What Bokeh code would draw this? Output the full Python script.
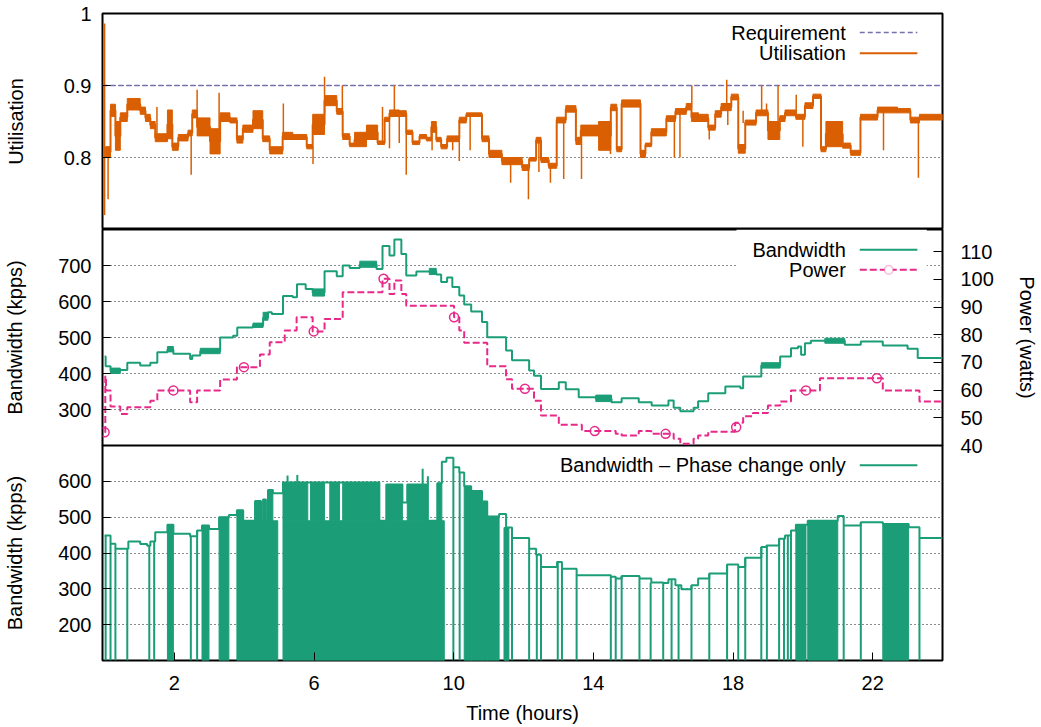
from bokeh.plotting import figure
from bokeh.models import (Range1d, LinearAxis, FixedTicker, Span, Label, Arrow,
                          BoxAnnotation)
from bokeh.layouts import column
from bokeh.embed import file_html
from bokeh.resources import INLINE

# ---------------------------------------------------------------- DATA
t_end = 24.0

# Utilisation: blocks of rapid oscillation (start time, low, high)
util_start = [0.03, 0.17, 0.31, 0.45, 0.65, 1.02, 1.17, 1.31, 1.45, 1.80,
              1.94, 2.11, 2.39, 2.51, 2.65, 3.02, 3.31, 3.59, 3.79, 3.96,
              4.25, 4.53, 4.73, 5.10, 5.39, 5.79, 5.96, 6.30, 6.65, 6.82,
              7.02, 7.16, 7.50, 7.82, 8.02, 8.16, 8.44, 8.64, 8.82, 9.02,
              9.22, 9.36, 9.50, 9.64, 9.81, 10.16, 10.36, 10.81, 11.01, 11.38,
              11.67, 11.96, 12.16, 12.36, 12.50, 12.72, 12.95, 13.21, 13.50, 13.64,
              14.15, 14.50, 14.67, 14.81, 15.35, 15.49, 15.66, 16.09, 16.35, 16.66,
              16.81, 17.01, 17.29, 17.49, 17.66, 17.95, 18.15, 18.35, 18.66, 19.00,
              19.34, 19.49, 19.80, 20.06, 20.29, 20.52, 20.66, 21.14, 21.37, 21.65,
              22.14, 22.71, 23.08, 23.34]
util_lo = [0.800, 0.857, 0.810, 0.850, 0.866, 0.860, 0.850, 0.840, 0.822, 0.826,
           0.810, 0.823, 0.830, 0.855, 0.830, 0.805, 0.850, 0.848, 0.820, 0.835,
           0.840, 0.822, 0.805, 0.825, 0.825, 0.812, 0.832, 0.872, 0.860, 0.825,
           0.815, 0.815, 0.825, 0.818, 0.850, 0.857, 0.857, 0.832, 0.818, 0.826,
           0.823, 0.835, 0.822, 0.812, 0.822, 0.848, 0.857, 0.822, 0.800, 0.790,
           0.790, 0.782, 0.795, 0.820, 0.793, 0.785, 0.848, 0.863, 0.818, 0.830,
           0.810, 0.865, 0.808, 0.870, 0.800, 0.815, 0.830, 0.850, 0.860, 0.866,
           0.850, 0.850, 0.838, 0.856, 0.865, 0.880, 0.806, 0.845, 0.858, 0.825,
           0.850, 0.858, 0.853, 0.868, 0.882, 0.808, 0.815, 0.813, 0.803, 0.852,
           0.862, 0.862, 0.848, 0.852]
util_hi = [0.815, 0.874, 0.850, 0.862, 0.882, 0.870, 0.860, 0.850, 0.833, 0.866,
           0.820, 0.832, 0.838, 0.866, 0.855, 0.840, 0.862, 0.855, 0.830, 0.845,
           0.865, 0.830, 0.815, 0.835, 0.832, 0.818, 0.860, 0.886, 0.868, 0.833,
           0.820, 0.835, 0.845, 0.823, 0.856, 0.866, 0.865, 0.838, 0.823, 0.832,
           0.828, 0.850, 0.828, 0.818, 0.830, 0.856, 0.862, 0.830, 0.810, 0.800,
           0.800, 0.790, 0.800, 0.828, 0.800, 0.792, 0.856, 0.872, 0.828, 0.845,
           0.850, 0.874, 0.815, 0.880, 0.810, 0.820, 0.840, 0.858, 0.868, 0.875,
           0.862, 0.860, 0.845, 0.865, 0.875, 0.888, 0.818, 0.852, 0.866, 0.850,
           0.858, 0.866, 0.860, 0.876, 0.888, 0.815, 0.850, 0.820, 0.810, 0.860,
           0.870, 0.868, 0.856, 0.860]
# Utilisation spikes (time, from, to)
util_spike_t = [0.00, 0.10, 1.50, 2.48, 2.65, 3.28, 5.12, 5.97, 6.30, 6.81,
                7.96, 8.16, 8.30, 8.44, 8.64, 9.38, 9.97, 10.16, 10.47, 11.63,
                12.14, 12.44, 12.77, 13.15, 13.66, 14.49, 16.32, 16.48, 16.82, 17.32,
                17.82, 17.85, 18.29, 18.82, 18.96, 19.29, 19.81, 20.00, 22.31, 23.31]
util_spike_from = [0.720, 0.805, 0.830, 0.834, 0.860, 0.840, 0.830, 0.815, 0.860, 0.865,
                   0.820, 0.853, 0.862, 0.860, 0.835, 0.840, 0.826, 0.826, 0.860, 0.795,
                   0.786, 0.824, 0.790, 0.852, 0.835, 0.830, 0.854, 0.864, 0.870, 0.842,
                   0.870, 0.870, 0.848, 0.862, 0.862, 0.840, 0.856, 0.856, 0.866, 0.852]
util_spike_to = [0.986, 0.742, 0.870, 0.776, 0.894, 0.890, 0.875, 0.791, 0.912, 0.900,
                 0.870, 0.813, 0.900, 0.820, 0.776, 0.810, 0.810, 0.795, 0.810, 0.765,
                 0.742, 0.780, 0.765, 0.770, 0.770, 0.805, 0.800, 0.800, 0.900, 0.825,
                 0.908, 0.845, 0.865, 0.900, 0.875, 0.900, 0.887, 0.815, 0.810, 0.772]
requirement = 0.9

# Bandwidth (kpps), step series
bw_t = [0.00, 0.03, 0.17, 0.45, 0.65, 1.02, 1.31, 1.51, 1.80, 1.97,
        2.45, 2.51, 2.74, 3.31, 3.68, 3.80, 4.25, 4.54, 4.68, 4.79,
        5.11, 5.39, 5.51, 5.76, 5.96, 6.30, 6.65, 6.82, 7.02, 7.31,
        7.79, 7.96, 8.16, 8.30, 8.50, 8.64, 8.93, 9.30, 9.50, 9.64,
        9.81, 9.96, 10.16, 10.30, 10.50, 10.81, 10.96, 11.50, 11.67, 12.16,
        12.30, 12.50, 13.01, 13.21, 13.58, 14.07, 14.52, 14.81, 15.30, 15.67,
        16.15, 16.30, 16.49, 16.87, 17.00, 17.29, 17.78, 18.21, 18.29, 18.81,
        19.35, 19.66, 19.86, 19.95, 20.06, 20.23, 20.63, 21.20, 21.66, 22.29,
        23.00, 23.29]
bw_v = [447, 420, 407, 410, 430, 422, 430, 459, 467, 455,
        440, 450, 462, 500, 505, 528, 534, 555, 570, 565,
        615, 612, 648, 635, 625, 684, 670, 700, 693, 703,
        690, 754, 728, 772, 732, 672, 683, 683, 675, 654,
        667, 640, 617, 592, 572, 543, 501, 464, 437, 408,
        394, 357, 376, 356, 334, 330, 320, 331, 320, 311,
        325, 305, 295, 305, 323, 345, 364, 359, 392, 422,
        447, 470, 475, 452, 484, 491, 491, 480, 489, 478,
        469, 443]
# Bandwidth oscillation blocks (start, end, low, high)
bw_blk_t0 = [0.17, 1.80, 2.74, 4.25, 4.54, 5.96, 7.31, 9.30, 14.07, 18.81, 20.63]
bw_blk_t1 = [0.45, 1.97, 3.31, 4.54, 4.68, 6.30, 7.79, 9.50, 14.52, 19.35, 21.20]
bw_blk_lo = [400, 460, 455, 528, 548, 615, 695, 675, 322, 415, 484]
bw_blk_hi = [415, 475, 470, 540, 570, 635, 712, 692, 340, 430, 498]

# Power (watts), step series
pw_t = [0.00, 0.02, 0.04, 0.17, 0.45, 0.65, 1.31, 1.51, 2.45, 2.65,
        3.31, 3.79, 4.45, 4.73, 5.16, 5.50, 5.96, 6.30, 6.82, 7.96,
        8.16, 8.30, 8.50, 8.64, 10.01, 10.16, 10.30, 10.96, 11.50, 11.67,
        12.30, 12.50, 13.01, 13.67, 14.64, 14.81, 15.30, 15.66, 16.30, 16.49,
        16.87, 17.00, 17.29, 18.06, 18.29, 18.57, 19.00, 19.35, 19.66, 20.49,
        22.29, 23.34]
pw_v = [44.8, 65.0, 59.9, 54.1, 51.4, 53.8, 56.2, 59.9, 55.6, 59.9,
        63.8, 68.3, 72.9, 77.3, 81.5, 86.3, 81.2, 85.7, 95.3, 100.2,
        94.7, 99.6, 94.7, 90.5, 86.3, 81.5, 77.1, 68.6, 63.9, 60.5,
        56.2, 50.8, 47.5, 45.2, 44.2, 43.6, 45.2, 44.2, 42.4, 40.6,
        42.4, 43.6, 45.0, 48.2, 50.6, 51.7, 54.4, 55.9, 59.9, 64.3,
        59.9, 55.9]
pw_mark_t = [0.00, 1.97, 3.99, 5.99, 7.99, 10.01, 12.04, 14.04, 16.07, 18.09, 20.09, 22.12]
pw_mark_v = [44.8, 59.9, 68.3, 81.2, 100.2, 86.3, 60.5, 45.2, 44.2, 46.6, 59.9, 64.3]

# Bandwidth - phase change only: upper envelope (step series)
ph_t = [0.00, 0.17, 0.31, 0.68, 1.02, 1.22, 1.31, 1.45, 1.80, 1.97,
        2.45, 2.65, 2.79, 2.99, 3.28, 3.56, 3.79, 3.97, 4.31, 4.48,
        4.54, 4.62, 4.68, 4.82, 5.11, 7.87, 8.07, 8.53, 8.67, 9.22,
        9.53, 9.66, 9.79, 9.99, 10.16, 10.30, 10.50, 10.81, 10.96, 11.30,
        11.50, 11.67, 12.16, 12.36, 12.50, 12.96, 13.10, 13.52, 14.50, 14.64,
        14.81, 15.32, 15.66, 16.00, 16.15, 16.35, 16.52, 16.81, 17.00, 17.32,
        17.83, 18.15, 18.35, 18.81, 18.96, 19.32, 19.49, 19.66, 19.80, 20.14,
        21.00, 21.17, 21.66, 22.29, 23.03, 23.34]
ph_v = [449, 426, 412, 432, 425, 420, 432, 458, 479, 454,
        447, 463, 477, 467, 500, 506, 519, 490, 545, 490,
        549, 490, 576, 567, 597, 490, 591, 541, 591, 490,
        595, 655, 666, 639, 625, 586, 573, 544, 502, 509,
        471, 442, 412, 395, 361, 375, 356, 338, 334, 329,
        336, 329, 318, 316, 327, 310, 299, 310, 329, 343,
        368, 361, 387, 417, 421, 440, 449, 463, 479, 490,
        503, 477, 486, 481, 472, 442]
ph_low = 100
# dense switching regions (start, end, top) filled down to ph_low
ph_fill_t0 = [1.80, 2.79, 3.28, 3.79, 5.11, 10.30, 10.50, 10.81, 10.96, 11.44, 19.80, 20.14, 22.29]
ph_fill_t1 = [1.97, 2.99, 3.56, 4.96, 9.73, 10.50, 10.81, 10.96, 11.30, 11.58, 20.09, 21.00, 23.03]
ph_fill_top = [479, 477, 500, 490, 490, 586, 573, 544, 502, 471, 479, 490, 481]
# dense switching between upper levels (start, end, low, high)
ph_up_t0 = [3.79, 4.31, 4.54, 4.68, 5.11, 5.90, 6.45, 6.82, 8.07, 8.67, 9.53]
ph_up_t1 = [3.97, 4.48, 4.62, 4.82, 5.82, 6.30, 6.73, 7.87, 8.53, 9.22, 9.66]
ph_up_lo = [490, 490, 490, 490, 490, 490, 490, 490, 490, 490, 490]
ph_up_hi = [519, 545, 549, 576, 597, 597, 597, 597, 591, 591, 595]
# isolated drops (time, level before drop)
ph_drop_t = [0.03, 0.17, 0.31, 0.65, 1.28, 1.42, 2.47, 2.65, 9.99, 10.17,
             11.50, 11.54, 11.67, 12.16, 12.38, 12.50, 12.98, 13.10, 13.52, 14.50,
             14.64, 14.81, 15.32, 15.64, 16.00, 16.24, 16.44, 16.81, 17.32, 17.83,
             18.15, 18.35, 18.81, 18.97, 19.32, 19.46, 19.57, 19.66, 21.17, 21.66,
             23.34]
ph_drop_v = [449, 426, 412, 412, 420, 432, 447, 463, 639, 625,
             471, 471, 442, 412, 395, 361, 375, 356, 338, 334,
             329, 336, 329, 318, 316, 327, 310, 310, 343, 368,
             361, 387, 417, 421, 440, 440, 449, 463, 477, 486,
             442]
# isolated upward spikes (time, from, to)
ph_spike_t = [5.24, 5.52, 9.11, 9.26]
ph_spike_from = [597, 597, 591, 490]
ph_spike_to = [616, 618, 635, 614]

x_ticks = [2, 6, 10, 14, 18, 22]
util_ticks = [0.8, 0.9, 1.0]
bw_ticks = [300, 400, 500, 600, 700]
pw_ticks = [40, 50, 60, 70, 80, 90, 100, 110]
ph_ticks = [200, 300, 400, 500, 600]

# ---------------------------------------------------------------- STYLE
FONT = "Liberation Sans"
FS = "20px"
C_UTIL = "#d95f02"
C_REQ = "#7570b3"
C_BW = "#1b9e77"
C_PW = "#e7298a"

BORDER_L, BORDER_R = 102, 95
FRAME_W = 843
TOP_B, BOT_B = 13, 64
OVERLAP = 14   # room below the middle panel for its lowest right-axis label

x_range = Range1d(-0.06, t_end)


def make_fig(y_range, frame_h, top_border, bottom_border, yticks, ylabel, label_standoff):
    p = figure(x_range=x_range, y_range=y_range,
               width=BORDER_L + FRAME_W + BORDER_R,
               height=top_border + frame_h + bottom_border,
               min_border_left=BORDER_L, min_border_right=BORDER_R,
               min_border_top=top_border, min_border_bottom=bottom_border,
               output_backend="svg", toolbar_location=None)
    p.outline_line_color = "black"
    p.outline_line_width = 2
    p.background_fill_color = "white"
    p.border_fill_color = "white"
    p.xgrid.visible = False
    tk = FixedTicker(ticks=yticks)
    ax = p.yaxis[0]
    ax.ticker = tk
    ax.axis_label = ylabel
    ax.axis_label_text_font = FONT
    ax.axis_label_text_font_size = FS
    ax.axis_label_text_font_style = "normal"
    ax.axis_label_text_color = "black"
    ax.axis_label_standoff = label_standoff
    ax.major_label_text_font = FONT
    ax.major_label_text_font_size = FS
    ax.major_label_text_color = "black"
    ax.major_label_standoff = 11
    ax.major_tick_in = 8
    ax.major_tick_out = 0
    ax.minor_tick_in = 0
    ax.minor_tick_out = 0
    ax.major_tick_line_color = "black"
    ax.major_tick_line_width = 1
    ax.axis_line_color = None
    g = p.ygrid[0]
    g.ticker = tk
    g.grid_line_color = "black"
    g.grid_line_dash = "1 3"
    g.grid_line_width = 1
    g.grid_line_alpha = 0.9
    return p


def legend_entry(p, x_text, x0, x1, y, text, color, dash, width):
    p.add_layout(Label(x=x_text, y=y, text=text, text_align="right", text_baseline="middle",
                       text_font=FONT, text_font_size=FS, text_color="black"))
    p.add_layout(Arrow(x_start=x0, y_start=y, x_end=x1, y_end=y, start=None, end=None,
                       line_color=color, line_width=width, line_dash=dash))


LEG_XT, LEG_X0, LEG_X1 = 21.23, 21.63, 23.28

# ---------------- top: utilisation
p1 = make_fig(Range1d(0.7, 1.0), 216, TOP_B, 0, util_ticks, "Utilisation", 34)
p1.yaxis[0].major_label_overrides = {0.8: "0.8", 0.9: "0.9", 1.0: "1"}
p1.xaxis.visible = False
p1.add_layout(Span(location=requirement, dimension="width", line_color=C_REQ,
                   line_width=1.5, line_dash="5 3", level="underlay"))
u_edges = util_start + [t_end]
p1.quad(left=u_edges[:-1], right=u_edges[1:], bottom=util_lo, top=util_hi,
        fill_color=C_UTIL, line_color=C_UTIL, line_width=1)
u_mid = [(a + b) / 2 for a, b in zip(util_lo, util_hi)]
p1.step(x=u_edges, y=u_mid + [u_mid[-1]], mode="after", line_color=C_UTIL, line_width=2)
p1.segment(x0=util_spike_t, y0=util_spike_from, x1=util_spike_t, y1=util_spike_to,
           line_color=C_UTIL, line_width=1.5)
legend_entry(p1, LEG_XT, LEG_X0, LEG_X1, 0.9736, "Requirement", C_REQ, "5 3", 1.5)
legend_entry(p1, LEG_XT, LEG_X0, LEG_X1, 0.9449, "Utilisation", C_UTIL, "solid", 2)

# ---------------- middle: bandwidth and power
p2 = make_fig(Range1d(200, 800), 216, 0, OVERLAP, bw_ticks, "Bandwidth (kpps)", 29)
p2.xaxis.visible = False
p2.extra_y_ranges = {"power": Range1d(40, 118)}
rax = LinearAxis(y_range_name="power", ticker=FixedTicker(ticks=pw_ticks),
                 axis_label="Power (watts)")
rax.axis_label_text_font = FONT
rax.axis_label_text_font_size = FS
rax.axis_label_text_font_style = "normal"
rax.axis_label_text_color = "black"
rax.axis_label_standoff = 19
rax.major_label_text_font = FONT
rax.major_label_text_font_size = FS
rax.major_label_text_color = "black"
rax.major_label_standoff = 18
rax.major_tick_in = 9
rax.major_tick_out = 0
rax.minor_tick_in = 0
rax.minor_tick_out = 0
rax.major_tick_line_color = "black"
rax.axis_line_color = None
p2.add_layout(rax, "right")

p2.quad(left=bw_blk_t0, right=bw_blk_t1, bottom=bw_blk_lo, top=bw_blk_hi,
        fill_color=C_BW, line_color=C_BW, line_width=1)
p2.step(x=bw_t + [t_end], y=bw_v + [bw_v[-1]], mode="after", line_color=C_BW, line_width=2)
p2.step(x=pw_t + [t_end], y=pw_v + [pw_v[-1]], mode="after", line_color=C_PW, line_width=2,
        line_dash="7 3", y_range_name="power")
p2.scatter(x=pw_mark_t, y=pw_mark_v, marker="circle", size=9, fill_color=None,
           line_color=C_PW, line_width=1.5, y_range_name="power")
p2.add_layout(BoxAnnotation(left=18.1, right=23.55, bottom=652, top=800,
                            fill_color="white", fill_alpha=1.0, line_color=None))
legend_entry(p2, LEG_XT, LEG_X0, LEG_X1, 743.6, "Bandwidth", C_BW, "solid", 2)
legend_entry(p2, LEG_XT, LEG_X0, LEG_X1, 688, "Power", C_PW, "7 3", 2)
p2.add_layout(BoxAnnotation(left=22.34, right=22.58, bottom=676, top=700,
                            fill_color="white", fill_alpha=1.0, line_color=C_PW,
                            line_width=1.5, border_radius=5))

# ---------------- bottom: phase change only
p3 = make_fig(Range1d(100, 700), 217, 0, BOT_B, ph_ticks, "Bandwidth (kpps)", 29)
p3.border_fill_color = None
p3.margin = (-OVERLAP, 0, 0, 0)
xa = p3.xaxis[0]
xa.ticker = FixedTicker(ticks=x_ticks)
xa.axis_label = "Time (hours)"
xa.axis_label_text_font = FONT
xa.axis_label_text_font_size = FS
xa.axis_label_text_font_style = "normal"
xa.axis_label_text_color = "black"
xa.axis_label_standoff = 9
xa.major_label_text_font = FONT
xa.major_label_text_font_size = FS
xa.major_label_text_color = "black"
xa.major_label_standoff = 15
xa.major_tick_in = 8
xa.major_tick_out = 0
xa.minor_tick_in = 0
xa.minor_tick_out = 0
xa.major_tick_line_color = "black"
xa.axis_line_color = None

p3.quad(left=ph_fill_t0, right=ph_fill_t1, bottom=ph_low, top=ph_fill_top,
        fill_color=C_BW, line_color=C_BW, line_width=1)
p3.quad(left=ph_up_t0, right=ph_up_t1, bottom=ph_up_lo, top=ph_up_hi,
        fill_color=C_BW, line_color=C_BW, line_width=1)
p3.segment(x0=ph_drop_t, y0=ph_low, x1=ph_drop_t, y1=ph_drop_v, line_color=C_BW, line_width=2)
p3.step(x=ph_t + [t_end], y=ph_v + [ph_v[-1]], mode="after", line_color=C_BW, line_width=2)
p3.segment(x0=ph_spike_t, y0=ph_spike_from, x1=ph_spike_t, y1=ph_spike_to,
           line_color=C_BW, line_width=2)
legend_entry(p3, LEG_XT, LEG_X0, LEG_X1, 644.7, "Bandwidth \u2013 Phase change only", C_BW, "solid", 2)

layout = column(p1, p2, p3, spacing=0)
open("out.html", "w").write(file_html(layout, INLINE))
